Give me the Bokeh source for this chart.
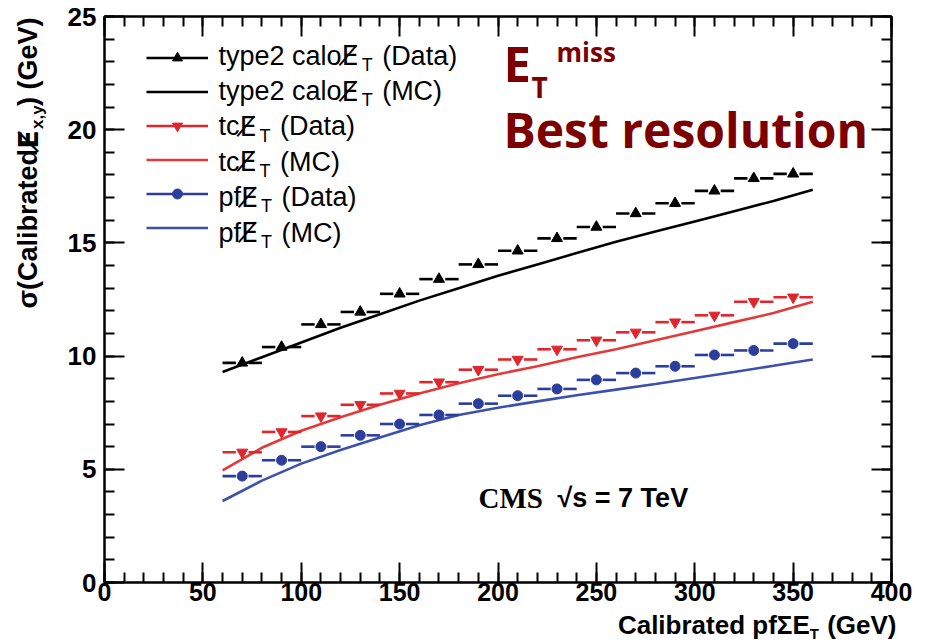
import math
from bokeh.plotting import figure
from bokeh.layouts import column, row
from bokeh.models import (Range1d, LinearAxis, SingleIntervalTicker, Label,
                          Legend, LegendItem)
from bokeh.embed import file_html
from bokeh.resources import INLINE

# ---------------- data ----------------
x_bins = [70, 90, 110, 130, 150, 170, 190, 210, 230, 250, 270, 290, 310, 330, 350]
bin_halfwidth = 10
calo_data = [9.7, 10.4, 11.4, 11.95, 12.75, 13.4, 14.05, 14.65, 15.2, 15.7,
             16.3, 16.75, 17.3, 17.85, 18.05]
tc_data = [5.75, 6.65, 7.35, 7.85, 8.35, 8.85, 9.4, 9.85, 10.3, 10.7,
           11.05, 11.5, 11.8, 12.4, 12.6]
pf_data = [4.7, 5.4, 6.0, 6.5, 7.0, 7.4, 7.9, 8.25, 8.55, 8.95,
           9.25, 9.55, 10.05, 10.25, 10.55]

mc_x = [60, 80, 100, 120, 140, 160, 180, 200, 220, 240, 260, 280, 300, 320, 340, 360]
calo_mc = [9.3, 9.95, 10.6, 11.25, 11.85, 12.45, 13.0, 13.55, 14.05, 14.55,
           15.05, 15.5, 15.95, 16.4, 16.85, 17.35]
tc_mc = [4.95, 5.95, 6.7, 7.3, 7.85, 8.35, 8.8, 9.2, 9.55, 9.95,
         10.3, 10.7, 11.1, 11.5, 11.9, 12.4]
pf_mc = [3.6, 4.5, 5.25, 5.85, 6.4, 6.95, 7.4, 7.72, 8.0, 8.27,
         8.52, 8.77, 9.03, 9.3, 9.57, 9.85]

legend_prefix = ["type2 calo", "type2 calo", "tc", "tc", "pf", "pf"]
legend_suffix = ["(Data)", "(MC)", "(Data)", "(MC)", "(Data)", "(MC)"]

x_range_vals = (0, 400)
y_range_vals = (0, 25)
x_major, x_minor_n = 50, 5
y_major, y_minor_n = 5, 5

# ---------------- layout constants ----------------
W, H = 926, 643
LEFT_W = 48          # width of the strip holding the y-axis title
BOTTOM_H = 33        # height of the strip holding the x-axis title
MAIN_W, MAIN_H = W - LEFT_W, H - BOTTOM_H
FL, FR, FT, FB = 104, 891, 16, 582   # frame edges in window pixels
XMIN, XMAX = x_range_vals
YMIN, YMAX = y_range_vals

BLACK = "#000000"
RED = "#e0262c"
BLUE = "#2c3e9c"
RED_MC = "#e23a3a"
BLUE_MC = "#3c50ac"
MAROON = "#7d0000"

# distance (in em) from the middle of the text box down to the baseline
MID2BASE = {"Liberation Sans": 0.3465, "DejaVu Sans": 0.346,
            "Open Sans": 0.388, "Liberation Serif": 0.3375}


def dx(px):
    return XMIN + (px - FL) * (XMAX - XMIN) / (FR - FL)


def dy(py):
    return YMIN + (FB - py) * (YMAX - YMIN) / (FB - FT)


# Arial / Liberation Sans advance widths (1/1000 em)
AR = {' ': 278, '(': 333, ')': 333, ',': 278, '2': 556, '7': 556, '=': 584,
      'C': 722, 'D': 722, 'E': 667, 'G': 778, 'M': 833, 'T': 611, 'V': 667,
      'a': 556, 'b': 556, 'c': 500, 'd': 556, 'e': 556, 'f': 278, 'i': 222,
      'l': 222, 'o': 556, 'p': 556, 'r': 333, 's': 500, 't': 278, 'x': 500,
      'y': 500, 'Σ': 600, 'σ': 571, '√': 549}
ARB = {' ': 278, '(': 333, ')': 333, ',': 278, '2': 556, '7': 556, '=': 584,
       'C': 722, 'D': 722, 'E': 667, 'G': 778, 'M': 833, 'T': 611, 'V': 667,
       'a': 556, 'b': 611, 'c': 556, 'd': 611, 'e': 556, 'f': 333, 'i': 278,
       'l': 278, 'o': 611, 'p': 611, 'r': 389, 's': 556, 't': 333, 'x': 556,
       'y': 556, 'Σ': 600, 'σ': 610, '√': 549}


def tw(s, size, bold=False):
    tab = ARB if bold else AR
    return sum(tab.get(c, 556) for c in s) * size / 1000.0


# ---------------- main figure ----------------
p = figure(width=MAIN_W, height=MAIN_H,
           x_range=Range1d(XMIN, XMAX), y_range=Range1d(YMIN, YMAX),
           output_backend="svg", toolbar_location=None,
           x_axis_type=None, y_axis_type=None,
           min_border_left=FL - LEFT_W, min_border_right=W - FR,
           min_border_top=FT, min_border_bottom=MAIN_H - FB)
p.background_fill_color = "white"
p.border_fill_color = "white"
p.outline_line_color = "black"
p.outline_line_width = 2


def make_axis(interval, nminor, labels, standoff=6, size=25):
    return LinearAxis(
        ticker=SingleIntervalTicker(interval=interval, num_minor_ticks=nminor),
        axis_line_width=2, axis_line_color="black",
        major_tick_in=20, major_tick_out=0, minor_tick_in=10, minor_tick_out=0,
        major_tick_line_width=2, minor_tick_line_width=2,
        major_tick_line_color="black", minor_tick_line_color="black",
        major_label_text_font="Liberation Sans",
        major_label_text_font_style="bold",
        major_label_text_font_size=f"{size}px" if labels else "1px",
        major_label_text_color="black" if labels else None,
        major_label_standoff=standoff)


p.add_layout(make_axis(x_major, x_minor_n, True, 0, 25), "below")
p.add_layout(make_axis(y_major, y_minor_n, True, 8, 26), "left")
p.add_layout(make_axis(x_major, x_minor_n, False, 0), "above")
p.add_layout(make_axis(y_major, y_minor_n, False, 0), "right")

# ---------------- MC curves ----------------
r_calo_mc = p.line(mc_x, calo_mc, line_color=BLACK, line_width=2.6)
r_tc_mc = p.line(mc_x, tc_mc, line_color=RED_MC, line_width=2.6)
r_pf_mc = p.line(mc_x, pf_mc, line_color=BLUE_MC, line_width=2.6)

# ---------------- data points with horizontal bin bars ----------------
GAP = 3.2  # data units of gap around the marker


def draw_data(ys, color, marker, size):
    lo0 = [x - bin_halfwidth for x in x_bins]
    lo1 = [x - GAP for x in x_bins]
    hi0 = [x + GAP for x in x_bins]
    hi1 = [x + bin_halfwidth for x in x_bins]
    seg = p.segment(x0=lo0, y0=ys, x1=lo1, y1=ys, line_color=color, line_width=2.6)
    p.segment(x0=hi0, y0=ys, x1=hi1, y1=ys, line_color=color, line_width=2.6)
    sc = p.scatter(x_bins, ys, marker=marker, size=size, fill_color=color,
                   line_color=color, line_width=1)
    return seg, sc


calo_seg, calo_sc = draw_data(calo_data, BLACK, "triangle", 11)
tc_seg, tc_sc = draw_data(tc_data, RED, "inverted_triangle", 11)
pf_seg, pf_sc = draw_data(pf_data, BLUE, "circle", 10)

# ---------------- legend (glyph samples) ----------------
ROW0 = 54.5
ROWH = 35.4
GLYPH_H = 25
SPACING = 9
LEG_SHIFT = 4   # empirical upward correction of the legend box
items = [
    LegendItem(label=" ", renderers=[calo_seg, calo_sc]),
    LegendItem(label=" ", renderers=[r_calo_mc]),
    LegendItem(label=" ", renderers=[tc_seg, tc_sc]),
    LegendItem(label=" ", renderers=[r_tc_mc]),
    LegendItem(label=" ", renderers=[pf_seg, pf_sc]),
    LegendItem(label=" ", renderers=[r_pf_mc]),
]
leg_top = ROW0 - GLYPH_H / 2
leg_h = 6 * GLYPH_H + 5 * (ROWH - GLYPH_H)
legend = Legend(items=items,
                location=(146 - FL, FB - (leg_top + leg_h) + LEG_SHIFT),
                orientation="vertical", glyph_width=62, glyph_height=GLYPH_H,
                spacing=SPACING, padding=0, margin=0,
                label_text_font_size="1px", label_text_color=None,
                label_height=0, label_width=0,
                label_standoff=0, border_line_color=None,
                background_fill_alpha=0)
p.add_layout(legend)


def put(fig, conv, text, px, py, size, font="Liberation Sans", style="normal",
        color="black", rotated=False):
    """Place a text so that its baseline lies at py (or at px when rotated)."""
    off = MID2BASE.get(font, 0.35) * size
    if rotated:
        x, y = conv(px - off, py)
        angle = math.pi / 2
    else:
        x, y = conv(px, py - off)
        angle = 0.0
    fig.add_layout(Label(x=x, y=y, text=text, text_font=font,
                         text_font_size=f"{size}px", text_font_style=style,
                         text_color=color, text_baseline="middle",
                         text_align="left", angle=angle))


def main_conv(px, py):
    return dx(px), dy(py)


def pix_conv(px, py):
    return px, py


# legend texts
LFS = 27
SUBFS = 18
for i, (pre, suf) in enumerate(zip(legend_prefix, legend_suffix)):
    base = ROW0 + i * ROWH + 10
    x = 218
    put(p, main_conv, pre, x, base, LFS)
    x += tw(pre, LFS)
    put(p, main_conv, "E\u0338", x, base, LFS, font="DejaVu Sans")
    x += 0.632 * LFS + 3
    put(p, main_conv, "T", x, base + 6, SUBFS)
    x += tw("T", SUBFS) + tw(" ", LFS) + 2
    put(p, main_conv, suf, x, base, LFS)

# annotation: E_T^miss / Best resolution
put(p, main_conv, "E", 503, 82, 49, font="Open Sans", style="bold", color=MAROON)
put(p, main_conv, "T", 531, 97, 28, font="Open Sans", style="bold", color=MAROON)
put(p, main_conv, "miss", 556, 62, 26, font="Open Sans", style="bold", color=MAROON)
put(p, main_conv, "Best resolution", 503, 148, 48, font="Open Sans", style="bold",
    color=MAROON)

# CMS label
put(p, main_conv, "CMS", 478, 507, 29, font="Liberation Serif", style="bold")
put(p, main_conv, "\u221as = 7 TeV", 557, 507, 27, style="bold")


# ---------------- title strips (pixel coordinates) ----------------
def strip(w, h, ox, oy):
    f = figure(width=w, height=h, x_range=Range1d(ox, ox + w),
               y_range=Range1d(oy + h, oy), output_backend="svg",
               toolbar_location=None, x_axis_type=None, y_axis_type=None,
               min_border=0, min_border_left=0, min_border_right=0,
               min_border_top=0, min_border_bottom=0)
    f.outline_line_color = None
    f.background_fill_color = "white"
    f.border_fill_color = "white"
    return f


# y-axis title (rotated, reading upward)
YFS = 27
YSUB = 17
left_fig = strip(LEFT_W, MAIN_H, 0, 0)
yt1, yt2, yt3, yt4 = "\u03c3(Calibrated", "E\u0338", "x,y", ") (GeV)"
w1 = tw(yt1 + " ", YFS, True) + 7
w2 = 0.683 * YFS + 3
w3 = tw(yt3, YSUB, True) + 1
w4 = tw(yt4, YFS, True)
ytop = 8
ybot = ytop + w1 + w2 + w3 + w4
ybase_x = 37
put(left_fig, pix_conv, yt1, ybase_x, ybot, YFS, style="bold", rotated=True)
put(left_fig, pix_conv, yt2, ybase_x, ybot - w1, YFS, font="DejaVu Sans",
    style="bold", rotated=True)
put(left_fig, pix_conv, yt3, ybase_x + 6, ybot - w1 - w2, YSUB, style="bold",
    rotated=True)
put(left_fig, pix_conv, yt4, ybase_x, ybot - w1 - w2 - w3, YFS, style="bold",
    rotated=True)

# x-axis title (right aligned)
XFS = 26
XSUB = 15
bottom_fig = strip(W, BOTTOM_H, 0, MAIN_H)
xt_main, xt_sub, xt_suf = "Calibrated pf\u03a3E", "T", "(GeV)"
xt_total = (tw(xt_main, XFS, True) + tw(xt_sub, XSUB, True) + 1
            + tw(" " + xt_suf, XFS, True))
xx = 896 - xt_total
xbase = 634
put(bottom_fig, pix_conv, xt_main, xx, xbase, XFS, style="bold")
xx += tw(xt_main, XFS, True)
put(bottom_fig, pix_conv, xt_sub, xx, xbase + 4, XSUB, style="bold")
xx += tw(xt_sub, XSUB, True) + 1 + tw(" ", XFS, True)
put(bottom_fig, pix_conv, xt_suf, xx, xbase, XFS, style="bold")

layout = column(row(left_fig, p, spacing=0), bottom_fig, spacing=0)
open("out.html", "w").write(file_html(layout, INLINE))
